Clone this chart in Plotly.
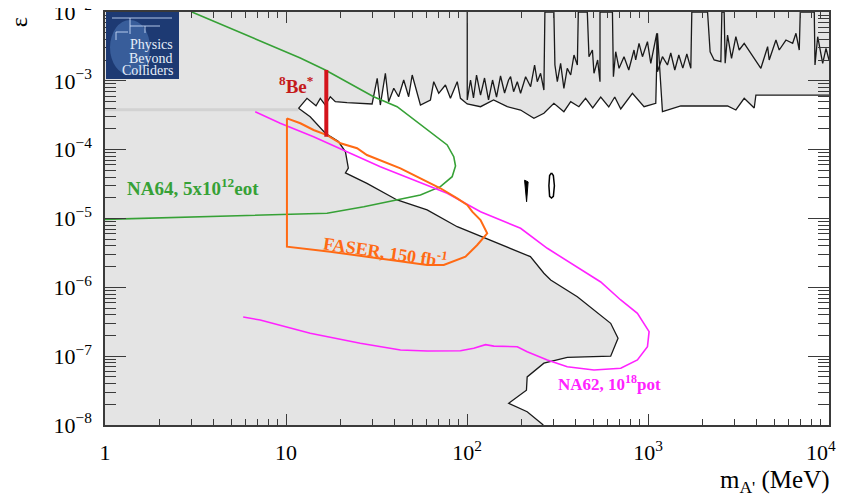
import math
import plotly.graph_objects as go

# ---------------- data (m_A' in MeV, epsilon) ----------------
# lower edge of the open region (beam-dump / existing limits)
low_m = [11.73, 13.6, 16.5, 19.5, 21.3, 22.1, 21.3, 28.0, 41.1, 60.2, 88.3, 147, 224, 266, 290,
         407, 503, 622, 683, 622, 358, 266, 215, 213, 170, 215, 264]
low_eps = [3.99e-4, 3.01e-4, 1.73e-4, 1.31e-4, 9.3e-5, 5.4e-5, 4.6e-5, 3.24e-5, 1.86e-5, 1.33e-5,
           7.6e-6, 4.37e-6, 2.79e-6, 1.6e-6, 1.28e-6, 7.3e-7, 4.68e-7, 3.0e-7, 1.82e-7, 1.0e-7,
           9.6e-8, 7.9e-8, 5.0e-8, 3.2e-8, 2.07e-8, 1.56e-8, 1.0e-8]

# upper edge of the open region (collider limits)
up_m = [11.73, 13.06, 14.65, 15.47, 16.49, 17.57, 18.73, 21.74, 29.9, 31.9,
        33.2, 35.4, 36.9, 39.4, 41.9, 44.7, 47.6, 49.8, 55.3, 62.8,
        65.5, 69.8, 76.0, 81.0, 88.3, 92.0, 100.3, 118.8, 140.2, 166.9,
        197.7, 234.2, 266, 302, 343, 374, 415, 452, 495, 548,
        607, 655, 707, 820, 951, 1104, 1128, 1202, 1518, 2751,
        3058, 3400, 3862, 3946, 10000]
up_eps = [3.99e-4, 5.57e-4, 4.35e-4, 5.57e-4, 4.45e-4, 5.88e-4, 4.97e-4, 4.81e-4, 4.61e-4, 1.088e-3,
          4.45e-4, 1.286e-3, 4.97e-4, 7.79e-4, 5.88e-4, 1.028e-3, 5.88e-4, 1.215e-3, 4.45e-4, 5.27e-4,
          9.71e-4, 6.59e-4, 8.7e-4, 5.57e-4, 9.71e-4, 5.57e-4, 4.61e-4, 4.21e-4, 5.27e-4, 4.21e-4,
          3.77e-4, 2.85e-4, 3.38e-4, 4.72e-4, 3.56e-4, 4.97e-4, 4.21e-4, 5.57e-4, 4.03e-4, 5.82e-4,
          4.17e-4, 5.82e-4, 3.9e-4, 6.59e-4, 4.21e-4, 4.72e-4, 4.9e-3, 3.56e-4, 4.31e-4, 4.31e-4,
          3.77e-4, 5.57e-4, 4.03e-4, 6.22e-4, 6.22e-4]

# jagged collider contours inside the excluded (grey) area
jag_m = [100.3, 100.3, 104.6, 108.6, 112.9, 118.8, 125, 131.5, 138.4, 145.6,
         153.2, 161.3, 169.7, 174.1, 180.9, 189.6, 197.7, 210.8, 224.6, 236.3,
         244.5, 255, 266, 269.4, 302, 306, 315.5, 329, 343, 358,
         374, 390, 407, 412, 462, 472, 493, 503, 527, 543,
         543, 636, 644, 663, 692, 737, 783, 837, 855, 892,
         932, 993, 1036, 1118, 1128, 1202, 1281, 1336, 1406, 1480,
         1557, 1639, 1724, 1746, 2133, 2204, 2320, 2527, 2559, 2635,
         2669, 2751, 2894, 3058, 3190, 3400, 4204, 4580, 4674, 5092,
         5309, 5782, 6299, 6569, 6850, 6938, 8291, 8367, 8660, 9230,
         9625, 10000]
jag_eps = [1e-2, 5.27e-4, 1.028e-3, 5.63e-4, 1.215e-3, 6.22e-4, 1.099e-3, 5.27e-4, 1.028e-3, 5.82e-4,
           1.176e-3, 6.66e-4, 1.028e-3, 1.148e-3, 6.95e-4, 9.71e-4, 6.59e-4, 1.148e-3, 8.21e-4, 1.698e-3,
           9.71e-4, 1.286e-3, 7.36e-4, 1e-2, 1e-2, 1.698e-3, 9.71e-4, 1.797e-3, 7.79e-4, 1.521e-3,
           1.215e-3, 2.373e-3, 1.698e-3, 1e-2, 1e-2, 2.242e-3, 2.805e-3, 1.286e-3, 2.008e-3, 9.71e-4,
           1e-2, 1e-2, 1.148e-3, 2.649e-3, 1.521e-3, 2.242e-3, 1.437e-3, 2.805e-3, 2.008e-3, 3.51e-3,
           2.242e-3, 3.70e-3, 1.797e-3, 4.9e-3, 1.357e-3, 2.242e-3, 1.698e-3, 2.537e-3, 1.437e-3, 2.373e-3,
           1.53e-3, 2.454e-3, 1.521e-3, 1e-2, 1e-2, 2.649e-3, 2.008e-3, 1.896e-3, 1e-2, 1e-2,
           1.797e-3, 4.63e-3, 2.125e-3, 4.377e-3, 2.805e-3, 3.51e-3, 1.521e-3, 3.133e-3, 2.008e-3, 3.917e-3,
           2.805e-3, 3.917e-3, 3.51e-3, 4.9e-3, 2.805e-3, 1e-2, 1e-2, 1.698e-3, 4.377e-3, 1.797e-3,
           2.97e-3, 2.008e-3]

# small isolated exclusion islands
sliver_m = [208, 217.6, 213.4, 208]
sliver_eps = [3.6e-5, 3.4e-5, 1.75e-5, 3.6e-5]
oval_m = [293, 300, 304, 300, 293, 286, 283.5, 286, 293]
oval_eps = [4.6e-5, 4.2e-5, 3.0e-5, 2.1e-5, 1.98e-5, 2.1e-5, 3.0e-5, 4.2e-5, 4.6e-5]

# faint grey band at left
band_m = [1.0, 11.7]
band_eps = [3.8e-4, 3.8e-4]

# NA64, 5x10^12 eot
na64_m = [3.02, 11.99, 16.49, 30.5, 41.1, 57.7, 77.7, 84.5, 86.4, 82.8, 71.3, 55.3, 41.1, 26.9,
          16.85, 9.29, 3.35, 1.0]
na64_eps = [1.0e-2, 2.15e-3, 1.437e-3, 5.88e-4, 4.21e-4, 2.157e-4, 1.17e-4, 7.9e-5, 5.79e-5, 4.05e-5,
            2.9e-5, 2.19e-5, 1.86e-5, 1.48e-5, 1.19e-5, 1.14e-5, 1.05e-5, 9.7e-6]

# FASER, 150 fb^-1
faser_m = [10.12, 12.0, 14.2, 16.85, 20.0, 24.7, 28.0, 33.2, 42.9, 55.3, 71.3, 88.3, 100.3, 106.9,
           118.8, 129.3, 113.9, 98.1, 74.4, 60.2, 33.2, 17.57, 10.12, 10.12]
faser_eps = [2.85e-4, 2.42e-4, 1.93e-4, 1.63e-4, 1.24e-4, 1.05e-4, 8.37e-5, 7.08e-5, 5.36e-5, 3.84e-5,
             2.75e-5, 1.96e-5, 1.57e-5, 1.255e-5, 9.5e-6, 6.09e-6, 4.12e-6, 2.79e-6, 2.11e-6, 2.11e-6,
             2.64e-6, 3.29e-6, 3.89e-6, 2.85e-4]

# NA62, 10^18 pot
na62_m = [6.76, 9.29, 14.2, 21.74, 33.2, 50.8, 77.7, 118.8, 197.7, 277.7,
          425, 548, 707, 874, 1014, 993, 874, 707, 503, 358,
          277.7, 215, 189.6, 140.7, 126.6, 109.0, 92.0, 60.2, 42.9, 25.7,
          13.6, 7.2, 5.8]
na62_eps = [3.56e-4, 2.42e-4, 1.54e-4, 9.34e-5, 5.65e-5, 3.62e-5, 2.32e-5, 1.255e-5, 7.2e-6, 3.69e-6,
            1.79e-6, 1.195e-6, 6.55e-7, 4.19e-7, 2.27e-7, 1.37e-7, 8.8e-8, 6.66e-8, 6.29e-8, 7.03e-8,
            8.8e-8, 1.16e-7, 1.37e-7, 1.40e-7, 1.47e-7, 1.30e-7, 1.2e-7, 1.19e-7, 1.23e-7, 1.54e-7,
            2.15e-7, 3.35e-7, 3.7e-7]

# 8Be* anomaly band
be8_m = [16.7, 16.7]
be8_eps = [1.54e-4, 1.44e-3]

# axis ticks (last label padded so it stays inside the window, as in the original)
x_tickvals = [1, 10, 100, 1000, 10000]
x_ticktext = ["1", "10", "10<sup>2</sup>", "10<sup>3</sup>", "10<sup>4</sup>\u00a0\u00a0\u00a0"]
y_tickvals = [1e-8, 1e-7, 1e-6, 1e-5, 1e-4, 1e-3, 1e-2]
y_ticktext = ["10<sup>\u22128</sup>", "10<sup>\u22127</sup>", "10<sup>\u22126</sup>", "10<sup>\u22125</sup>",
              "10<sup>\u22124</sup>", "10<sup>\u22123</sup>", "10<sup>\u22122</sup>"]
x_minor = [d * 10 ** e for e in range(0, 4) for d in range(2, 10)]
y_minor = [d * 10.0 ** e for e in range(-8, -2) for d in range(2, 10)]

assert len(low_m) == len(low_eps)
assert len(up_m) == len(up_eps)
assert len(jag_m) == len(jag_eps)
assert len(na64_m) == len(na64_eps)
assert len(faser_m) == len(faser_eps)
assert len(na62_m) == len(na62_eps)

SERIF = "Liberation Serif"
GREY = "#e4e4e4"

fig = go.Figure()

# open (white) region
fill_x = low_m + [264, 12000, 12000] + up_m[::-1]
fill_y = low_eps + [5e-9, 5e-9, up_eps[-1]] + up_eps[::-1]
fig.add_trace(go.Scatter(x=fill_x, y=fill_y, mode="lines", fill="toself", fillcolor="white",
                         line=dict(width=0), hoverinfo="skip", showlegend=False))

fig.add_trace(go.Scatter(x=band_m, y=band_eps, mode="lines",
                         line=dict(color="#d2d2d2", width=3), showlegend=False))

# boundaries
fig.add_trace(go.Scatter(x=low_m, y=low_eps, mode="lines",
                         line=dict(color="#1a1a1a", width=1.3), showlegend=False))
fig.add_trace(go.Scatter(x=up_m, y=up_eps, mode="lines",
                         line=dict(color="#1a1a1a", width=1.3), showlegend=False))
fig.add_trace(go.Scatter(x=jag_m, y=jag_eps, mode="lines",
                         line=dict(color="#1a1a1a", width=1.3), showlegend=False))
fig.add_trace(go.Scatter(x=sliver_m, y=sliver_eps, mode="lines", fill="toself", fillcolor="black",
                         line=dict(color="black", width=1), showlegend=False))
fig.add_trace(go.Scatter(x=oval_m, y=oval_eps, mode="lines",
                         line=dict(color="black", width=1.5), showlegend=False))

# experiments
fig.add_trace(go.Scatter(x=na64_m, y=na64_eps, mode="lines",
                         line=dict(color="#36a136", width=1.6), showlegend=False))
fig.add_trace(go.Scatter(x=na62_m, y=na62_eps, mode="lines",
                         line=dict(color="#ff22ff", width=1.6), showlegend=False))
fig.add_trace(go.Scatter(x=faser_m, y=faser_eps, mode="lines",
                         line=dict(color="#ff6a14", width=2), showlegend=False))
fig.add_trace(go.Scatter(x=be8_m, y=be8_eps, mode="lines",
                         line=dict(color="#d4141c", width=4), showlegend=False))

ann = []
ann.append(dict(x=math.log10(1.29), y=math.log10(2.87e-5), xref="x", yref="y", showarrow=False,
                xanchor="left", yanchor="middle", text="<b>NA64, 5x10<sup>12</sup>eot</b>",
                font=dict(family=SERIF, size=19, color="#36a136")))
ann.append(dict(x=math.log10(35.4), y=math.log10(3.37e-6), xref="x", yref="y", showarrow=False,
                xanchor="center", yanchor="middle", textangle=8.5, text="<b>FASER, 150 fb<sup>-1</sup></b>",
                font=dict(family=SERIF, size=18, color="#ff6a14")))
ann.append(dict(x=math.log10(308.8), y=math.log10(4.07e-8), xref="x", yref="y", showarrow=False,
                xanchor="left", yanchor="middle", text="<b>NA62, 10<sup>18</sup>pot</b>",
                font=dict(family=SERIF, size=17, color="#ff22ff")))
ann.append(dict(x=math.log10(8.9), y=math.log10(8.7e-4), xref="x", yref="y", showarrow=False,
                xanchor="left", yanchor="middle", text="<b><sup>8</sup>Be<sup>*</sup></b>",
                font=dict(family=SERIF, size=19, color="#c41a1a")))
# axis titles
ann.append(dict(x=-0.119, y=0.975, xref="paper", yref="paper", showarrow=False, textangle=-90,
                xanchor="center", yanchor="middle", text="\u03b5",
                font=dict(family=SERIF, size=24, color="black")))
ann.append(dict(x=1.004, y=-0.138, xref="paper", yref="paper", showarrow=False,
                xanchor="right", yanchor="middle", text="m<sub>A'</sub> (MeV)",
                font=dict(family=SERIF, size=25, color="black")))
# logo text
for txt, py in [("Physics", 45), ("Beyond", 58), ("Colliders", 71)]:
    ann.append(dict(x=(175 - 105) / 724, y=1 - (py - 12) / 413, xref="paper", yref="paper",
                    showarrow=False, xanchor="right", yanchor="middle", text=txt,
                    font=dict(family=SERIF, size=14, color="#e6eef9")))

def P(px, py):
    return (px - 105) / 724, 1 - (py - 12) / 413

shapes = []
x0, y1 = P(106, 12)
x1, y0 = P(179, 79)
shapes.append(dict(type="rect", xref="paper", yref="paper", x0=x0, x1=x1, y0=y0, y1=y1,
                   fillcolor="#1d3a73", line=dict(width=0), layer="above"))
cx0, cy1 = P(110, 20)
cx1, cy0 = P(150, 75)
shapes.append(dict(type="circle", xref="paper", yref="paper", x0=cx0, x1=cx1, y0=cy0, y1=cy1,
                   fillcolor="rgba(110,160,225,0.35)", line=dict(width=0), layer="above"))
for (a, b, c, d) in [(112, 18, 172, 18), (130, 18, 130, 34), (130, 26, 160, 26), (145, 26, 145, 33),
                     (116, 32, 128, 32), (116, 32, 116, 40)]:
    ax_, ay_ = P(a, b)
    bx_, by_ = P(c, d)
    shapes.append(dict(type="line", xref="paper", yref="paper", x0=ax_, y0=ay_, x1=bx_, y1=by_,
                       line=dict(color="rgba(205,222,250,0.85)", width=1), layer="above"))

axis_common = dict(type="log", showgrid=False, zeroline=False, showline=True, linecolor="#3a3a3a",
                   linewidth=1.5, mirror="ticks", ticks="inside", tickcolor="#3a3a3a", tickwidth=1,
                   tickfont=dict(family=SERIF, size=22, color="black"), tickmode="array",
                   automargin=False, ticklabeloverflow="allow")

# the page body adds an 8 px offset, so the figure is 841x489 to fill the 849x497 window
fig.update_layout(
    width=841, height=489,
    margin=dict(l=97, r=20, t=4, b=72, autoexpand=False),
    paper_bgcolor="white", plot_bgcolor=GREY,
    showlegend=False,
    xaxis=dict(axis_common, range=[0, 4], tickvals=x_tickvals, ticktext=x_ticktext, ticklen=11,
               ticklabelstandoff=7,
               minor=dict(ticks="inside", ticklen=6, tickcolor="#3a3a3a", tickmode="array",
                          tickvals=x_minor, showgrid=False)),
    yaxis=dict(axis_common, range=[-8, -2], tickvals=y_tickvals, ticktext=y_ticktext, ticklen=21,
               ticklabelstandoff=7,
               minor=dict(ticks="inside", ticklen=11, tickcolor="#3a3a3a", tickmode="array",
                          tickvals=y_minor, showgrid=False)),
    annotations=ann,
    shapes=shapes,
)

fig.write_html("out.html")
